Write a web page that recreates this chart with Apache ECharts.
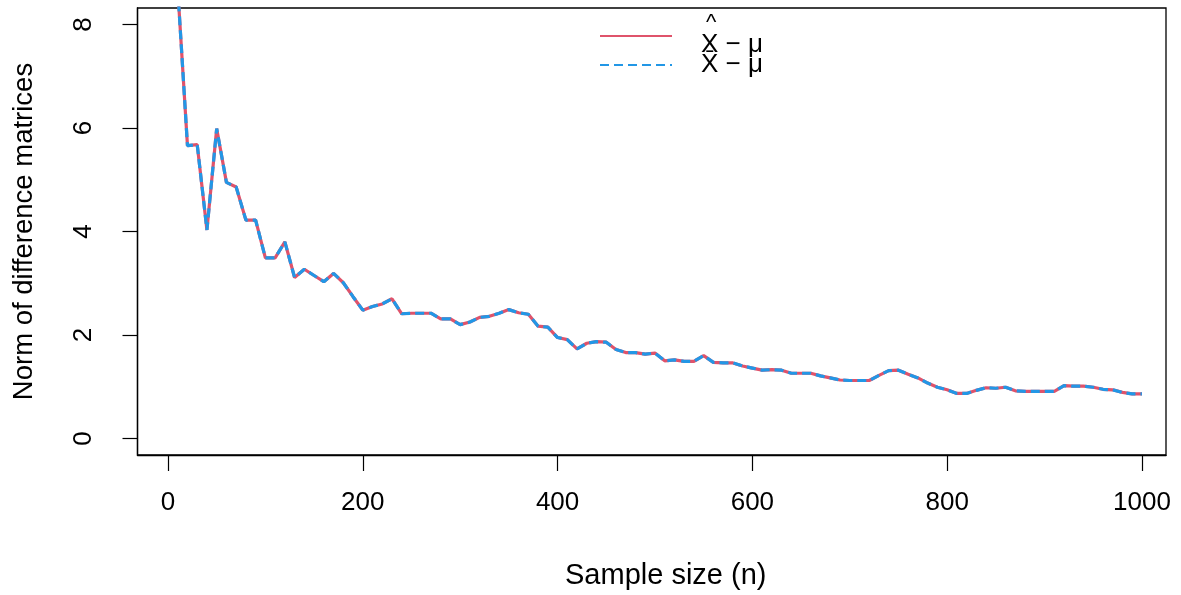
<!DOCTYPE html>
<html>
<head>
<meta charset="utf-8">
<script src="https://cdn.jsdelivr.net/npm/echarts@6/dist/echarts.min.js"></script>
<style>
html,body{margin:0;padding:0;background:#fff;}
#chart{width:1181px;height:595px;}
</style>
</head>
<body>
<div id="chart"></div>
<script>
var sampleSizes = [10,20,30,40,50,60,70,80,90,100,110,120,130,140,150,160,170,180,190,200,
  210,220,230,240,250,260,270,280,290,300,310,320,330,340,350,360,370,380,390,400,
  410,420,430,440,450,460,470,480,490,500,510,520,530,540,550,560,570,580,590,600,
  610,620,630,640,650,660,670,680,690,700,710,720,730,740,750,760,770,780,790,800,
  810,820,830,840,850,860,870,880,890,900,910,920,930,940,950,960,970,980,990,1000];
var normHat = [8.70,5.66,5.68,4.03,5.99,4.95,4.86,4.22,4.22,3.49,3.49,3.80,3.11,3.27,3.15,3.03,3.19,3.01,2.74,2.48,
  2.55,2.60,2.70,2.41,2.42,2.42,2.42,2.31,2.31,2.20,2.25,2.34,2.36,2.42,2.49,2.43,2.40,2.17,2.15,1.95,
  1.91,1.73,1.84,1.87,1.86,1.72,1.66,1.66,1.63,1.65,1.50,1.52,1.49,1.49,1.60,1.47,1.46,1.46,1.40,1.36,
  1.32,1.33,1.32,1.26,1.26,1.26,1.21,1.17,1.13,1.12,1.12,1.12,1.22,1.31,1.32,1.24,1.17,1.07,0.99,0.94,
  0.87,0.87,0.93,0.98,0.97,0.99,0.92,0.91,0.91,0.91,0.91,1.02,1.01,1.01,0.99,0.95,0.94,0.89,0.86,0.86];
var normBar = [8.70,5.66,5.68,4.03,5.99,4.95,4.86,4.22,4.22,3.49,3.49,3.80,3.11,3.27,3.15,3.03,3.19,3.01,2.74,2.48,
  2.55,2.60,2.70,2.41,2.42,2.42,2.42,2.31,2.31,2.20,2.25,2.34,2.36,2.42,2.49,2.43,2.40,2.17,2.15,1.95,
  1.91,1.73,1.84,1.87,1.86,1.72,1.66,1.66,1.63,1.65,1.50,1.52,1.49,1.49,1.60,1.47,1.46,1.46,1.40,1.36,
  1.32,1.33,1.32,1.26,1.26,1.26,1.21,1.17,1.13,1.12,1.12,1.12,1.22,1.31,1.32,1.24,1.17,1.07,0.99,0.94,
  0.87,0.87,0.93,0.98,0.97,0.99,0.92,0.91,0.91,0.91,0.91,1.02,1.01,1.01,0.99,0.95,0.94,0.89,0.86,0.86];
var xTicks = [0,200,400,600,800,1000];
var yTicks = [0,2,4,6,8];
var nameHat = 'X\u0302 \u2212 \u03bc';
var nameBar = 'X\u0304 \u2212 \u03bc';

function pairs(xs, ys){ return xs.map(function(x,i){ return [x, ys[i]]; }); }
function plain(v){ return String(v); }

var FONT = 'Liberation Sans, Arial, sans-serif';
var chart = echarts.init(document.getElementById('chart'), null, {renderer:'canvas'});
chart.setOption({
  animation: false,
  backgroundColor: '#fff',
  grid: {left: 137.5, right: 15, top: 8, bottom: 138.5, show: true, borderColor: '#000', borderWidth: 1.3, backgroundColor: 'transparent'},
  xAxis: {
    type: 'value', min: -31.3, max: 1024.7,
    name: 'Sample size (n)', nameLocation: 'middle', nameGap: 106,
    nameTextStyle: {fontFamily: FONT, fontSize: 29, color: '#000', padding: [0,0,0,28]},
    axisLine: {show: true, onZero: false, lineStyle: {color: '#000', width: 1.3}},
    splitLine: {show: false},
    axisTick: {show: true, inside: false, length: 16, lineStyle: {color: '#000', width: 1.2}, customValues: xTicks},
    axisLabel: {fontFamily: FONT, fontSize: 26, color: '#000', margin: 35, formatter: plain, customValues: xTicks}
  },
  yAxis: {
    type: 'value', min: -0.32, max: 8.32,
    name: 'Norm of difference matrices', nameLocation: 'middle', nameGap: 99, nameRotate: 90,
    nameTextStyle: {fontFamily: FONT, fontSize: 27.5, color: '#000'},
    axisLine: {show: true, onZero: false, lineStyle: {color: '#000', width: 1.3}},
    splitLine: {show: false},
    axisTick: {show: true, inside: false, length: 15, lineStyle: {color: '#000', width: 1.2}, customValues: yTicks},
    axisLabel: {fontFamily: FONT, fontSize: 26, color: '#000', margin: 41, rotate: 90, formatter: plain, customValues: yTicks}
  },
  legend: [
    {data: [nameHat], left: 594, top: 7, itemWidth: 72, itemHeight: 20, itemStyle: {opacity: 0},
     formatter: function(){ return '{h|^}\n{t|X \u2212 \u03bc}'; },
     textStyle: {fontFamily: FONT, fontSize: 26, color: '#000', padding: [0,0,0,24],
       rich: {h: {fontFamily: FONT, fontSize: 22, lineHeight: 18, color: '#000', padding: [0,0,0,5]},
              t: {fontFamily: FONT, fontSize: 26, lineHeight: 26, color: '#000'}}}},
    {data: [nameBar], left: 594, top: 47, itemWidth: 72, itemHeight: 20, itemStyle: {opacity: 0},
     textStyle: {fontFamily: FONT, fontSize: 26, color: '#000', padding: [0,0,0,24]}}
  ],
  series: [
    {name: nameHat, type: 'line', data: pairs(sampleSizes, normHat), symbol: 'none', clip: true,
     lineStyle: {color: '#DF536B', width: 3.2}, itemStyle: {color: '#DF536B'}},
    {name: nameBar, type: 'line', data: pairs(sampleSizes, normBar), symbol: 'none', clip: true,
     lineStyle: {color: '#2297E6', width: 3.2, type: [9,5]}, itemStyle: {color: '#2297E6'}}
  ]
});
</script>
</body>
</html>
